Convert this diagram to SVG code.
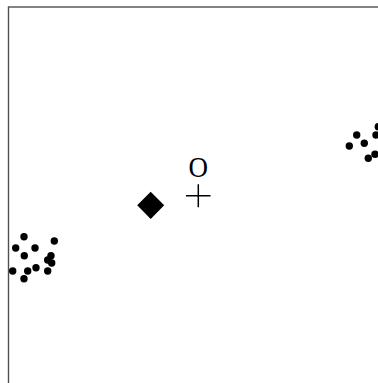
<svg xmlns="http://www.w3.org/2000/svg" width="378" height="383" viewBox="0 0 378 383">
<style>
.frame{fill:none;stroke:#505050;stroke-width:1.4}
.dot{fill:#000}
.lbl{font-family:"Liberation Serif","Times New Roman",serif;font-size:30px;fill:#000}
.cross{stroke:#000;stroke-width:1.5;fill:none}
</style>
<rect class="frame" x="8.5" y="7" width="380" height="390"/>
<g id="cluster-left">
<circle class="dot" cx="24" cy="236.7" r="3.7"/>
<circle class="dot" cx="54.3" cy="241" r="3.7"/>
<circle class="dot" cx="15.7" cy="248" r="3.7"/>
<circle class="dot" cx="35" cy="248" r="3.7"/>
<circle class="dot" cx="24.3" cy="255.7" r="3.7"/>
<circle class="dot" cx="51" cy="255.7" r="3.7"/>
<circle class="dot" cx="47.7" cy="260" r="3.7"/>
<circle class="dot" cx="51.7" cy="263" r="3.7"/>
<circle class="dot" cx="12.7" cy="271" r="3.7"/>
<circle class="dot" cx="27.7" cy="271" r="3.7"/>
<circle class="dot" cx="36" cy="267.7" r="3.7"/>
<circle class="dot" cx="47.7" cy="271" r="3.7"/>
<circle class="dot" cx="24" cy="278.7" r="3.7"/>
</g>
<g id="cluster-right">
<circle class="dot" cx="378.3" cy="126.7" r="3.7"/>
<circle class="dot" cx="356.7" cy="135" r="3.7"/>
<circle class="dot" cx="376" cy="135" r="3.7"/>
<circle class="dot" cx="349.3" cy="146" r="3.7"/>
<circle class="dot" cx="364.3" cy="143.3" r="3.7"/>
<circle class="dot" cx="375" cy="154.3" r="3.7"/>
<circle class="dot" cx="368.3" cy="158.3" r="3.7"/>
</g>
<g id="diamond">
<polygon points="150.7,191.7 164.2,205.3 150.7,219 137.2,205.3" fill="#000"/>
</g>
<g id="origin">
<path class="cross" d="M186,195.7 H210.5 M198.3,184.3 V207.3"/>
<text class="lbl" transform="translate(198.2,177.3) scale(0.9,1)" text-anchor="middle">O</text>
</g>
</svg>
